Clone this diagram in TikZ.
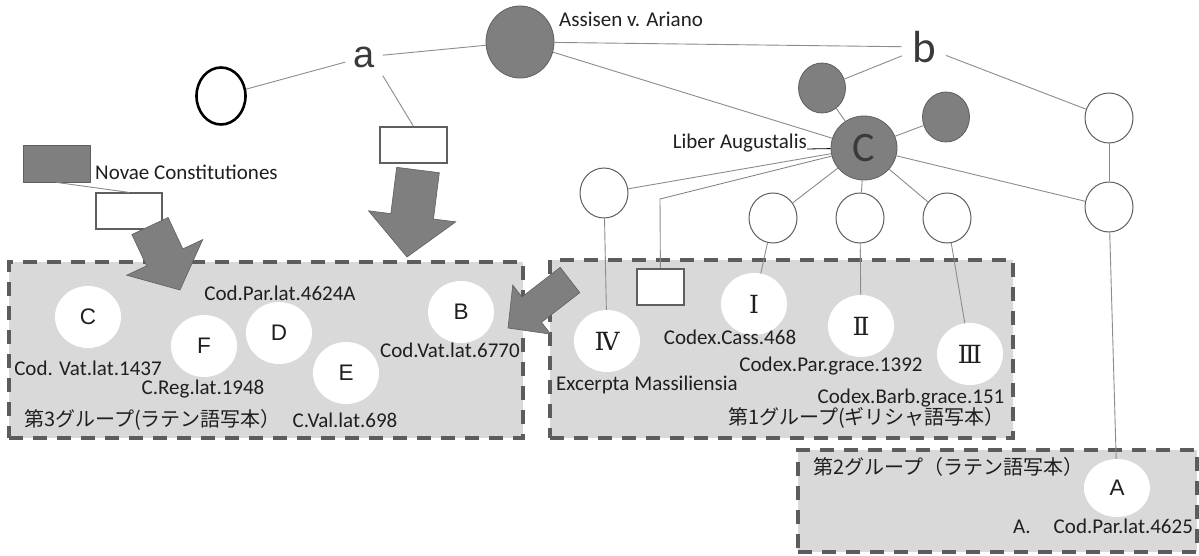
\documentclass[tikz,border=0pt]{standalone}
\usepackage{fontspec}
\setmainfont{Carlito}
\newfontfamily\cjk{Noto Sans CJK JP}
\newfontfamily\arialf{Liberation Sans}
\newfontfamily\romanf{DejaVu Serif}
\usetikzlibrary{shapes.geometric}
\definecolor{dgray}{HTML}{7F7F7F}
\definecolor{edgegray}{HTML}{5F5F5F}
\definecolor{linegray}{HTML}{8C8C8C}
\definecolor{boxfill}{HTML}{D9D9D9}
\definecolor{boxline}{HTML}{5C5C5C}
\definecolor{txt}{HTML}{1F1F1F}
\definecolor{txtb}{HTML}{3A3A3A}
\newcommand{\fatarrow}[7]{%
  \pgfmathsetmacro{\faang}{atan2(-(#4-#2),#3-#1)}%
  \pgfmathsetmacro{\falen}{veclen(#3-#1,#4-#2)}%
  \pgfmathsetmacro{\fabase}{\falen-#7}%
  \begin{scope}[shift={(#1,#2)}, rotate=\faang]
    \path[arrowshape] (0,-#5) -- (\fabase,-#5) -- (\fabase,-#6) -- (\falen,0) -- (\fabase,#6) -- (\fabase,#5) -- (0,#5) -- cycle;
  \end{scope}}
\begin{document}
\begin{tikzpicture}[x=1pt,y=-1pt,
  gbox/.style={draw=boxline, fill=boxfill, line width=3.8pt, dash pattern=on 14pt off 10pt, inner sep=0pt},
  lk/.style={draw=linegray, line width=0.9pt},
  dcirc/.style={ellipse, fill=dgray, draw=edgegray, line width=0.8pt, inner sep=0pt},
  wcirc/.style={ellipse, fill=white, draw=edgegray, line width=1pt, inner sep=0pt, minimum width=48pt, minimum height=50pt},
  gcirc/.style={ellipse, fill=white, inner sep=0pt, minimum width=66pt, minimum height=62pt, font=\arialf\fontsize{22.5}{26}\selectfont, text=txt},
  rcirc/.style={gcirc, font=\romanf\fontsize{25}{28}\selectfont},
  wrect/.style={rectangle, fill=white, draw=edgegray, line width=1.2pt, inner sep=0pt},
  lbl/.style={font=\fontsize{21}{25}\selectfont, text=txt, inner sep=0pt},
  jlbl/.style={font=\cjk\fontsize{20}{24}\selectfont, text=txt, inner sep=0pt},
  arrowshape/.style={fill=dgray, draw=edgegray, line width=0.6pt, line join=miter}]
\useasboundingbox (0,0) rectangle (1199,556);
\fill[white] (0,0) rectangle (1199,556);

% group boxes
\node[gbox, minimum width=514pt, minimum height=176pt] (box3) at (266,350) {};
\node[gbox, minimum width=463pt, minimum height=178pt] (box1) at (781.5,349) {};
\node[gbox, minimum width=399pt, minimum height=102pt] (box2) at (997.5,501) {};

% top part
\node[dcirc, minimum width=68pt, minimum height=72pt] (as) at (520,42) {};
\node[lbl, anchor=west] (aslbl) at (559,19) {Assisen v. Ariano};
\node[font=\arialf\fontsize{38}{40}\selectfont, text=txtb, inner sep=8pt] (a) at (364,57) {a};
\node[font=\fontsize{45}{46}\selectfont, text=txtb, inner sep=10pt] (b) at (924,47) {b};
\node[ellipse, draw=black, line width=2.6pt, minimum width=49pt, minimum height=57pt, inner sep=0pt] (bc) at (221,96) {};
\node[wrect, minimum width=67pt, minimum height=36pt] (ra) at (413.5,145) {};
\node[rectangle, fill=dgray, draw=edgegray, line width=0.8pt, minimum width=67pt, minimum height=37pt, inner sep=0pt] (ngr) at (56.5,163.5) {};
\node[lbl, anchor=west] (novlbl) at (95,172) {Novae Constitutiones};
\node[wrect, minimum width=66pt, minimum height=36pt] (nwr) at (129,211) {};

% C cluster
\node[dcirc, minimum width=66pt, minimum height=64pt, font=\fontsize{42}{42}\selectfont, text=txtb] (C) at (864,148) {C};
\node[lbl, anchor=base east] (lib) at (807,149) {Liber Augustalis};
\node[dcirc, minimum width=47pt, minimum height=50pt] (n1) at (822,88) {};
\node[dcirc, minimum width=47pt, minimum height=50pt] (n2) at (946,117) {};
\node[wcirc] (r1) at (1109,118) {};
\node[wcirc] (r2) at (1109,207) {};
\node[wcirc] (g1c) at (604,193) {};
\node[wcirc] (c1) at (773,218) {};
\node[wcirc] (c2) at (860,218) {};
\node[wcirc] (c3) at (947,218) {};
\coordinate (cor) at (660,199);

% group 1
\node[wrect, minimum width=47pt, minimum height=36pt] (rg1) at (660.5,287) {};
\node[rcirc] (g4) at (607,341) {Ⅳ};
\node[rcirc] (g1) at (754,304) {Ⅰ};
\node[rcirc] (g2) at (861,326) {Ⅱ};
\node[rcirc] (g3) at (970,354) {Ⅲ};
\node[lbl, anchor=base] (t4) at (647,390) {Excerpta Massiliensia};
\node[lbl, anchor=base] (t1) at (730,344) {Codex.Cass.468};
\node[lbl, anchor=base] (t2) at (831,371) {Codex.Par.grace.1392};
\node[lbl, anchor=base] (t3) at (911,403) {Codex.Barb.grace.151};
\node[jlbl, anchor=east] (j1) at (1005,418) {第1グループ(ギリシャ語写本）};

% group 3
\node[gcirc] (gC) at (88,317) {C};
\node[gcirc] (gF) at (204,346) {F};
\node[gcirc] (gD) at (279,333) {D};
\node[gcirc] (gE) at (346,373) {E};
\node[gcirc] (gB) at (461,312) {B};
\node[lbl, anchor=base] (tC) at (88,375) {Cod. Vat.lat.1437};
\node[lbl, anchor=base] (tF) at (203,394) {C.Reg.lat.1948};
\node[lbl, anchor=base] (tD) at (280,300) {Cod.Par.lat.4624A};
\node[lbl, anchor=base] (tE) at (345,427) {C.Val.lat.698};
\node[lbl, anchor=base] (tB) at (450,357) {Cod.Vat.lat.6770};
\node[jlbl, anchor=west] (j3) at (24,420) {第3グループ(ラテン語写本）};

% group 2
\node[gcirc, minimum height=58pt] (gA) at (1117,488) {A};
\node[jlbl, anchor=west] (j2) at (813,467) {第2グループ（ラテン語写本）};
\node[lbl, anchor=base] (tA) at (1103,533) {A.\hspace{1.1em}Cod.Par.lat.4625};

% connectors
\draw[lk] (bc) -- (a);
\draw[lk] (a) -- (as);
\draw[lk] (a.south east) -- (ra.north);
\draw[lk] (as) -- (b);
\draw[lk] (as) -- (C);
\draw[lk] (b) -- (n1);
\draw[lk] (b) -- (r1);
\draw[lk] (r1) -- (r2);
\draw[lk] (C) -- (r2);
\draw[lk] (r2) -- (gA);
\draw[lk] (n1) -- (C);
\draw[lk] (n2) -- (C);
\draw[lk] (C) -- (c1);
\draw[lk] (C) -- (c2);
\draw[lk] (C) -- (c3);
\draw[lk] (C) -- (g1c);
\draw[lk] (C) -- (cor) -- (rg1);
\draw[lk] (g1c) -- (g4);
\draw[lk] (c1) -- (g1);
\draw[lk] (c2) -- (g2);
\draw[lk] (c3) -- (g3);
\draw[draw=black, line width=0.8pt] (lib.base east) -- (C);
\draw[lk] (ngr.south) -- (nwr.north);

% big arrows
\fatarrow{418}{170}{407}{257}{21.5}{44}{41}
\fatarrow{150}{226}{180}{290}{20}{42}{36}
\fatarrow{570}{280}{508}{328}{16}{31}{30}
\end{tikzpicture}
\end{document}
